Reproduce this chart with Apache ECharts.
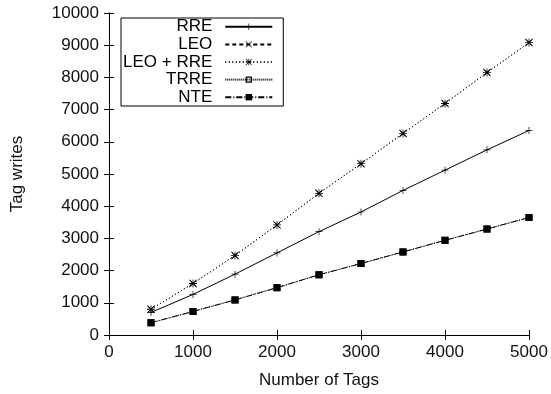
<!DOCTYPE html>
<html>
<head>
<meta charset="utf-8">
<script src="https://cdn.jsdelivr.net/npm/echarts@6/dist/echarts.min.js"></script>
<style>html,body{margin:0;padding:0;background:#fff;}#c{width:551px;height:394px;}</style>
</head>
<body>
<div id="c"></div>
<script>
var tags = [500, 1000, 1500, 2000, 2500, 3000, 3500, 4000, 4500, 5000];
var rre = [700, 1260, 1890, 2550, 3210, 3820, 4490, 5120, 5750, 6350];
var leo = [800, 1600, 2470, 3420, 4400, 5320, 6260, 7190, 8150, 9080];
var leoRre = [800, 1600, 2470, 3420, 4400, 5320, 6260, 7190, 8150, 9080];
var trre = [380, 730, 1090, 1470, 1870, 2220, 2580, 2940, 3290, 3650];
var nte = [380, 730, 1090, 1470, 1870, 2220, 2580, 2940, 3290, 3650];
var seriesNames = ['RRE', 'LEO', 'LEO + RRE', 'TRRE', 'NTE'];

function pairs(vals) { return tags.map(function (t, i) { return [t, vals[i]]; }); }

var PLUS = 'path://M0,4.5H10V5.5H0Z M4.5,0H5.5V10H4.5Z';
var CROSS = 'path://M0,0.8L0.8,0L10,9.2L9.2,10Z M9.2,0L10,0.8L0.8,10L0,9.2Z';
var STAR = 'path://M0,4.5H10V5.5H0Z M4.5,0H5.5V10H4.5Z M0,0.8L0.8,0L10,9.2L9.2,10Z M9.2,0L10,0.8L0.8,10L0,9.2Z';
var OSQ = 'path://M0,0H10V10H0Z M2,2V8H8V2Z';

var font = 'Liberation Sans, Arial, Helvetica, sans-serif';
var black = '#000';

function mk(name, vals, symbol, size, dash, z) {
  return {
    name: name, type: 'line', data: pairs(vals), symbol: symbol, symbolSize: size,
    showSymbol: true, z: z, animation: false,
    lineStyle: { color: black, width: 1, type: dash },
    itemStyle: { color: black, borderWidth: 0 },
    emphasis: { disabled: true }
  };
}

var chart = echarts.init(document.getElementById('c'), null, { renderer: 'canvas' });
var axisCommon = {
  min: 0,
  axisLine: { show: true, lineStyle: { color: black, width: 1 } },
  axisTick: { show: true, inside: true, length: 5, lineStyle: { color: black } },
  splitLine: { show: false }
};
function plain(v) { return String(v); }
chart.setOption({
  animation: false,
  textStyle: { fontFamily: font },
  grid: { left: 109, right: 22, top: 13, bottom: 57 },
  legend: {
    data: [
      { name: 'RRE' },
      { name: 'LEO', lineStyle: { type: [4, 3] } },
      { name: 'LEO + RRE' },
      { name: 'TRRE' },
      { name: 'NTE' }
    ],
    orient: 'vertical', align: 'right',
    left: 121, top: 18,
    itemWidth: 47, itemHeight: 8, itemGap: 0,
    padding: [0, 10, 0, 2],
    borderColor: black, borderWidth: 1,
    backgroundColor: '#fff',
    textStyle: { fontFamily: font, fontSize: 17, color: black, lineHeight: 17.6, padding: [0, 8, 0, 0] },
    selectedMode: false
  },
  xAxis: [
    Object.assign({}, axisCommon, {
      type: 'value', position: 'bottom', max: 5000, interval: 1000,
      name: 'Number of Tags', nameLocation: 'middle', nameGap: 37,
      nameTextStyle: { fontFamily: font, fontSize: 17, color: '#111' },
      axisLabel: { fontFamily: font, fontSize: 17, color: '#111', margin: 9, formatter: plain }
    }),
    Object.assign({}, axisCommon, {
      type: 'value', position: 'top', max: 5000, interval: 1000,
      axisLabel: { show: false }
    })
  ],
  yAxis: [
    Object.assign({}, axisCommon, {
      type: 'value', position: 'left', max: 10000, interval: 1000,
      name: 'Tag writes', nameLocation: 'middle', nameGap: 83, nameRotate: 90,
      nameTextStyle: { fontFamily: font, fontSize: 17, color: '#111' },
      axisLabel: { fontFamily: font, fontSize: 17, color: '#111', margin: 10, formatter: plain }
    }),
    Object.assign({}, axisCommon, {
      type: 'value', position: 'right', max: 10000, interval: 1000,
      axisLabel: { show: false }
    })
  ],
  series: [
    mk('RRE', rre, PLUS, 7, 'solid', 5),
    mk('LEO', leo, CROSS, 6, [1, 2.5], 6),
    mk('LEO + RRE', leoRre, STAR, 8, [1, 2.5], 7),
    mk('TRRE', trre, OSQ, 7, [1, 1], 8),
    mk('NTE', nte, 'rect', 7, [6, 2, 1, 2], 9)
  ]
});
</script>
</body>
</html>
